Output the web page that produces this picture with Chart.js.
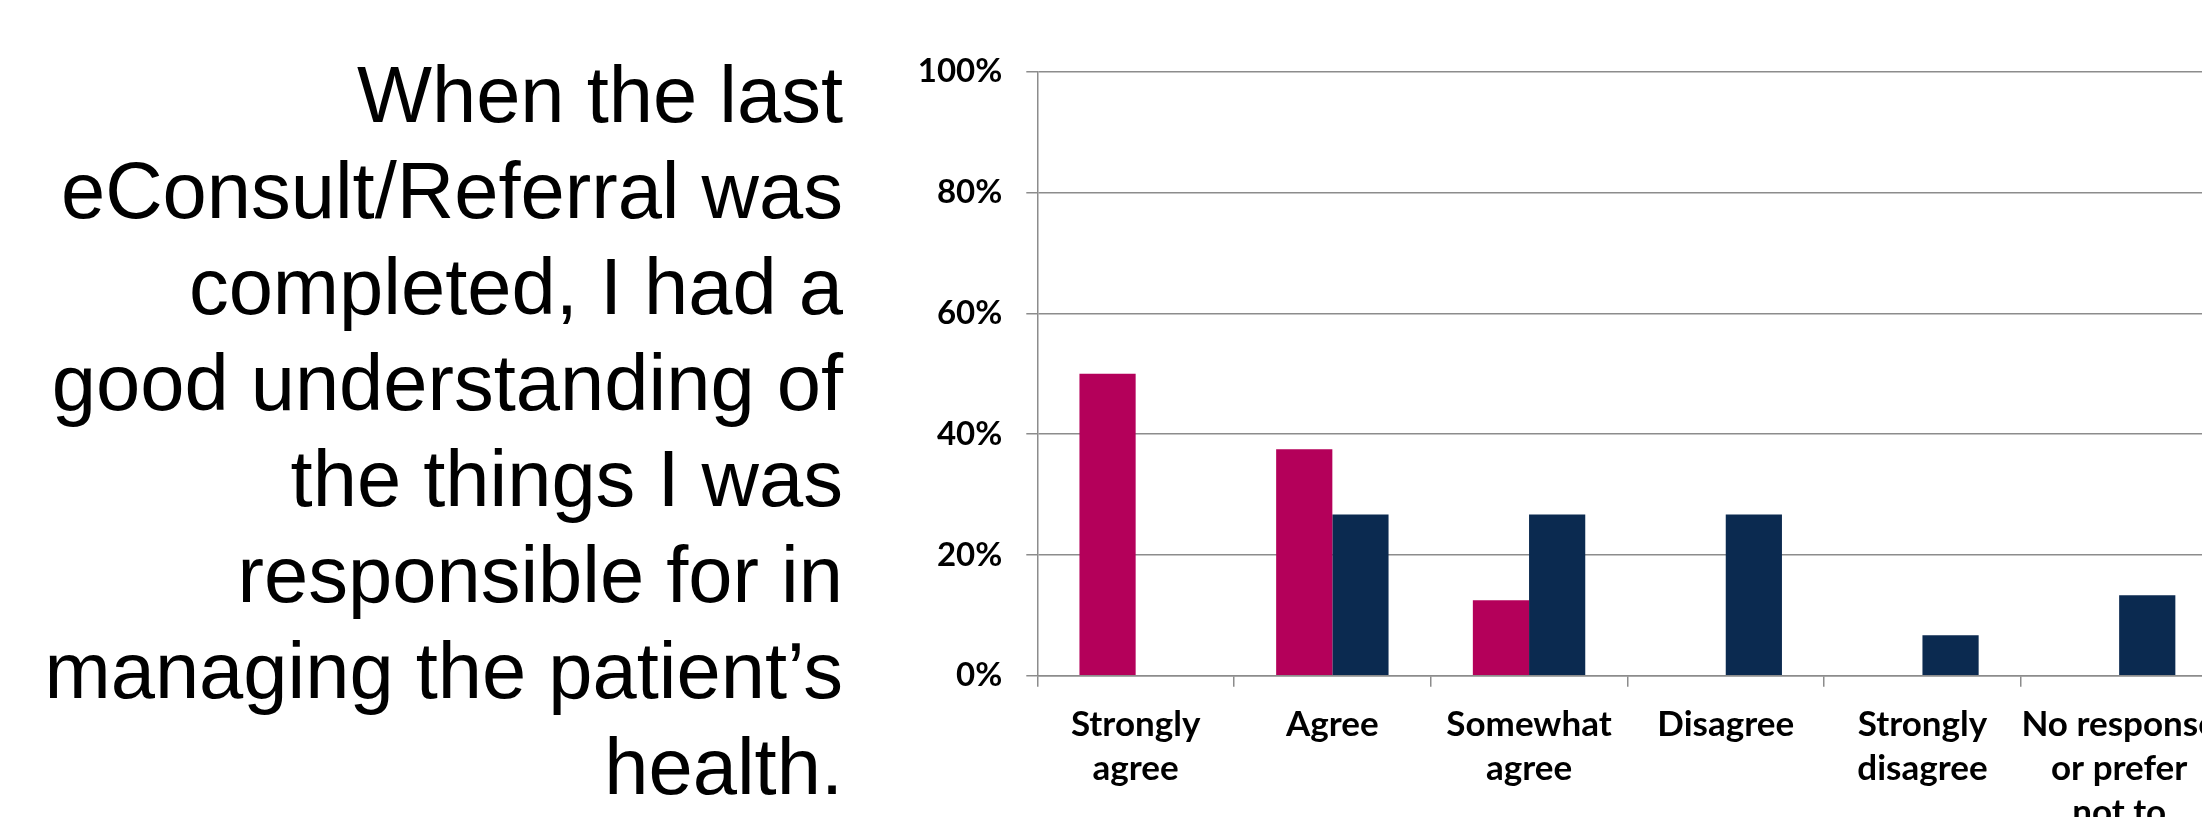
<!DOCTYPE html>
<html><head><meta charset="utf-8">
<script src="https://cdn.jsdelivr.net/npm/chart.js@4/dist/chart.umd.min.js"></script>
<style>
html,body{margin:0;padding:0;width:2202px;height:817px;overflow:hidden;background:#fff;}
#wrap{position:absolute;left:0;top:0;width:2202px;height:817px;overflow:hidden;background:#fff;}
#title{position:absolute;right:1359px;top:47px;text-align:right;font-family:"Liberation Sans",Arial,sans-serif;font-size:79.5px;line-height:96px;color:#000;white-space:nowrap;}
#cv{position:absolute;left:880px;top:0;}
</style></head><body>
<div id="wrap">
<div id="title">When the last<br>eConsult/Referral was<br>completed, I had a<br>good understanding of<br>the things I was<br>responsible for in<br>managing the patient’s<br>health.</div>
<canvas id="cv" width="1400" height="900"></canvas>
</div>
<script>
const categories = [
  ["Strongly","agree"],
  ["Agree"],
  ["Somewhat","agree"],
  ["Disagree"],
  ["Strongly","disagree"],
  ["No response","or prefer","not to","answer"]
];
const seriesNames = ["Series 1","Series 2"];
const series1 = [50, 37.5, 12.5, 0, 0, 0];
const series2 = [0, 26.7, 26.7, 26.7, 6.7, 13.3];
const yTicks = [0, 20, 40, 60, 80, 100];

const GRID = '#8c8c8c';
const yFont = {family: 'Lato, "Open Sans", sans-serif', weight: 'bold', size: 33, lineHeight: 1.33};
const xFont = {family: 'Lato, "Open Sans", sans-serif', weight: 'bold', size: 35, lineHeight: 1.257};

new Chart(document.getElementById('cv'), {
  type: 'bar',
  data: {
    labels: categories,
    datasets: [
      {label: seriesNames[0], data: series1, backgroundColor: '#B4005A', borderWidth: 0},
      {label: seriesNames[1], data: series2, backgroundColor: '#0B2A50', borderWidth: 0}
    ]
  },
  options: {
    responsive: false,
    animation: false,
    devicePixelRatio: 1,
    layout: {padding: {top: 71.7, right: 62.5, left: 0, bottom: 0}},
    plugins: {legend: {display: false}, tooltip: {enabled: false}, title: {display: false}},
    datasets: {bar: {categoryPercentage: 2/3.5, barPercentage: 1}},
    scales: {
      x: {
        grid: {display: true, drawOnChartArea: false, drawTicks: true, tickLength: 11, color: GRID, lineWidth: 1.5, offset: true},
        border: {display: true, color: GRID, width: 1.5},
        ticks: {color: '#000', font: xFont, padding: 16, maxRotation: 0, autoSkip: false},
        afterFit: s => { s.height = 900 - 675.7; }
      },
      y: {
        min: 0, max: 100,
        afterBuildTicks: s => { s.ticks = yTicks.map(v => ({value: v})); },
        grid: {color: GRID, lineWidth: 1.5, drawTicks: true, tickLength: 11},
        border: {display: true, color: GRID, width: 1.5},
        ticks: {color: '#000', font: yFont, padding: 24, callback: v => v + '%'},
        afterFit: s => { s.width = 157.3; }
      }
    }
  }
});
</script>
</body></html>
